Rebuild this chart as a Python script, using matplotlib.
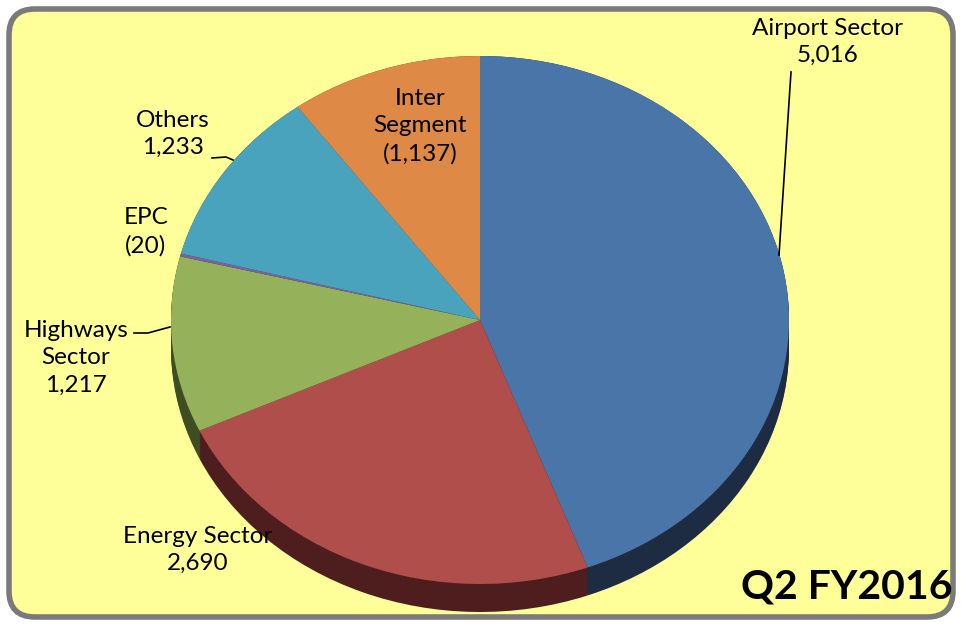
import numpy as np
import matplotlib.pyplot as plt
from matplotlib.patches import FancyBboxPatch

# segment revenue, Q2 FY2016 (clockwise from 12 o'clock)
segments = ['Airport Sector', 'Energy Sector', 'Highways Sector', 'EPC', 'Others', 'Inter Segment']
values = [5016, 2690, 1217, 20, 1233, 1137]
label_texts = ['Airport Sector\n5,016', 'Energy Sector\n2,690', 'Highways\nSector\n1,217',
               'EPC\n(20)', 'Others\n1,233', 'Inter\nSegment\n(1,137)']
top_colors = ['#4A75A8', '#B04E4C', '#95B15A', '#7D60A0', '#4AA3BD', '#DE8945']
side_colors = ['#1D2C42', '#4E1E1E', '#3F4E22', '#33244A', '#1E4D5C', '#6A3A14']

W, H = 962, 626
fig = plt.figure(figsize=(W / 100, H / 100), dpi=100)

# background panel in pixel coords
bg = fig.add_axes([0, 0, 1, 1])
bg.set_xlim(0, W)
bg.set_ylim(H, 0)
bg.axis('off')
bg.add_patch(FancyBboxPatch((9, 9), W - 18, H - 18, boxstyle='round,pad=0,rounding_size=26',
                            fc='#FFFF99', ec='#7A7A7A', lw=4))

# pie ellipse bounding box (pixels)
left, right, top, bottom = 171, 789, 56, 584
depth = 28
ry = (bottom - top) / 2
d = depth / ry
pax = fig.add_axes([left / W, (H - bottom - depth) / H, (right - left) / W, (bottom - top + depth) / H])
pax.patch.set_alpha(0)

# extruded side: stack of darker pies shifted down
for k in np.linspace(d, 0, 15):
    pax.pie(values, colors=side_colors, startangle=90, counterclock=False,
            center=(0, -k), radius=1, wedgeprops=dict(lw=0))
pax.pie(values, colors=top_colors, startangle=90, counterclock=False,
        center=(0, 0), radius=1, wedgeprops=dict(lw=0))
pax.set_aspect('auto')
pax.set_xlim(-1, 1)
pax.set_ylim(-1 - d, 1)
pax.axis('off')

# labels and leader lines overlay
ov = fig.add_axes([0, 0, 1, 1])
ov.set_xlim(0, W)
ov.set_ylim(H, 0)
ov.axis('off')
ov.patch.set_alpha(0)

label_pos = {
    'Airport Sector': (828, 42),
    'Energy Sector': (198, 550),
    'Highways Sector': (76, 358),
    'EPC': (146, 232),
    'Others': (173, 134),
    'Inter Segment': (420, 126),
}
font = dict(family=['Lato', 'DejaVu Sans'], fontsize=17.5, ha='center', va='center', linespacing=1.38)
for name, txt in zip(segments, label_texts):
    x, y = label_pos[name]
    ov.text(x, y, txt, **font)

# leader lines
ov.plot([791, 779], [72, 255], color='black', lw=1.2)
ov.plot([212, 226, 233], [158, 157, 160], color='black', lw=1.2)
ov.plot([134, 148, 170], [333, 333, 327], color='black', lw=1.2)

ov.text(953, 587, 'Q2 FY2016', family=['Lato', 'DejaVu Sans'], fontsize=29.5, fontweight='bold',
        ha='right', va='center')

fig.savefig('out.png', dpi=100)
